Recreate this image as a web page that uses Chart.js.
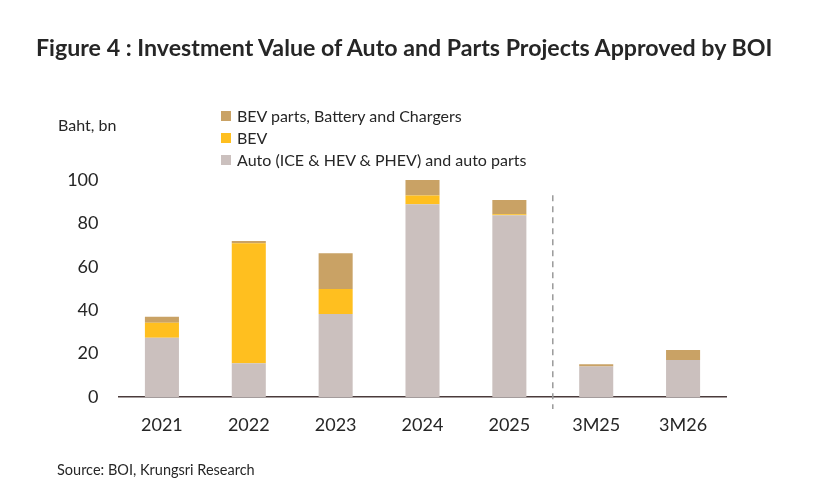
<!DOCTYPE html>
<html>
<head>
<meta charset="utf-8">
<script src="https://cdn.jsdelivr.net/npm/chart.js@4"></script>
<style>
  body { margin: 0; background: #fff; font-family: Lato, 'Open Sans', sans-serif; color: #262626; }
  #wrap { position: relative; width: 840px; height: 500px; }
  #wrap canvas { position: absolute; left: 0; top: 0; }
  .title { position: absolute; left: 36px; top: 33px; font-size: 23.2px; font-weight: bold; color: #262626; white-space: nowrap; }
  .unit { position: absolute; left: 58px; top: 115px; font-size: 16px; }
  .source { position: absolute; left: 57px; top: 461px; font-size: 14.5px; }
  .legend { position: absolute; left: 221px; top: 105px; font-size: 16px; line-height: 22px; }
  .legend div { display: flex; align-items: center; white-space: nowrap; }
  .legend span { display: inline-block; width: 10px; height: 10px; margin-right: 6px; }
</style>
</head>
<body>
<div id="wrap">
  <canvas id="chart" width="840" height="500"></canvas>
  <div class="title">Figure 4 : Investment Value of Auto and Parts Projects Approved by BOI</div>
  <div class="unit">Baht, bn</div>
  <div class="legend" id="legend"></div>
  <div class="source">Source: BOI, Krungsri Research</div>
</div>
<script>
// values (Baht bn)
const categories = ['2021', '2022', '2023', '2024', '2025', '3M25', '3M26'];
const autoParts = [27.3, 15.5, 38.2, 88.8, 83.8, 14.0, 17.1];
const bev = [6.9, 55.3, 11.6, 4.0, 0.4, 0.0, 0.0];
const bevParts = [2.8, 1.1, 16.4, 7.5, 6.6, 1.1, 4.6];
const yTicks = [0, 20, 40, 60, 80, 100];

const colors = { auto: '#CBC0BE', bev: '#FFBF1F', parts: '#C9A265' };

// legend order as in the figure (top to bottom)
const legendItems = [
  { label: 'BEV parts, Battery and Chargers', color: colors.parts },
  { label: 'BEV', color: colors.bev },
  { label: 'Auto (ICE & HEV & PHEV) and auto parts', color: colors.auto },
];
document.getElementById('legend').innerHTML = legendItems.map(l =>
  `<div><span style="background:${l.color}"></span>${l.label}</div>`).join('');

// dashed divider between annual and quarterly figures
const dividerPlugin = {
  id: 'divider',
  afterDatasetsDraw(chart) {
    const { ctx, scales: { x, y } } = chart;
    const px = (x.getPixelForValue(4) + x.getPixelForValue(5)) / 2;
    ctx.save();
    ctx.strokeStyle = '#9a9a9a';
    ctx.lineWidth = 1.5;
    ctx.setLineDash([6, 5]);
    ctx.beginPath();
    ctx.moveTo(px, y.getPixelForValue(93));
    ctx.lineTo(px, y.getPixelForValue(0) + 12);
    ctx.stroke();
    ctx.restore();
  }
};

const barOpts = { categoryPercentage: 0.8, barPercentage: 0.49, borderWidth: 0 };

new Chart(document.getElementById('chart'), {
  type: 'bar',
  data: {
    labels: categories,
    datasets: [
      { label: 'Auto (ICE & HEV & PHEV) and auto parts', data: autoParts, backgroundColor: colors.auto, ...barOpts },
      { label: 'BEV', data: bev, backgroundColor: colors.bev, ...barOpts },
      { label: 'BEV parts, Battery and Chargers', data: bevParts, backgroundColor: colors.parts, ...barOpts },
    ]
  },
  options: {
    responsive: false,
    animation: false,
    layout: { padding: { left: 0, right: 113.5, top: 180, bottom: 0 } },
    plugins: { legend: { display: false }, tooltip: { enabled: false } },
    scales: {
      x: {
        stacked: true,
        grid: { display: false, drawTicks: false },
        border: { display: true, color: '#4a3b3b', width: 1.5 },
        ticks: { color: '#262626', padding: 17, font: { family: 'Lato', size: 18 } },
        afterFit: s => { s.height = 103; }
      },
      y: {
        stacked: true,
        min: 0, max: 100,
        afterBuildTicks: s => { s.ticks = yTicks.map(v => ({ value: v })); },
        grid: { display: false, drawTicks: false },
        border: { display: false },
        ticks: { color: '#262626', padding: 20, font: { family: 'Lato', size: 18 } },
        afterFit: s => { s.width = 118.5; }
      }
    }
  },
  plugins: [dividerPlugin]
});
</script>
</body>
</html>
